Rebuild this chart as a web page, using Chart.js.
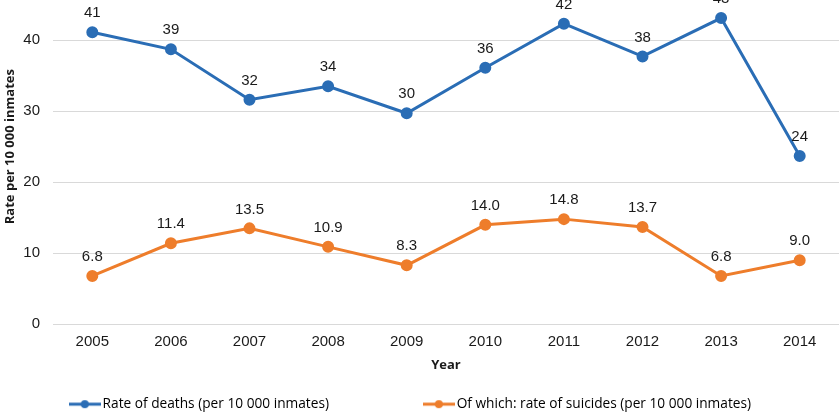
<!DOCTYPE html>
<html>
<head>
<meta charset="utf-8">
<script src="https://cdn.jsdelivr.net/npm/chart.js@4.4.1/dist/chart.umd.min.js"></script>
<style>
  html, body { margin: 0; padding: 0; background: #fff; }
  #wrap { position: relative; width: 839px; height: 412px; overflow: hidden; }
  #box { position: absolute; left: 0; top: -53px; width: 839px; height: 479px; }
</style>
</head>
<body>
<div id="wrap"><div id="box"><canvas id="chart"></canvas></div></div>
<script>
const years = ['2005', '2006', '2007', '2008', '2009', '2010', '2011', '2012', '2013', '2014'];
const deathRates = [41.1, 38.7, 31.6, 33.5, 29.7, 36.1, 42.3, 37.7, 43.1, 23.7];
const suicideRates = [6.8, 11.4, 13.5, 10.9, 8.3, 14.0, 14.8, 13.7, 6.8, 9.0];
const deathDigits = 0;
const suicideDigits = 1;

const blue = '#2a6db5';
const orange = '#ee7d2b';
// spacing for the legend entries (the legend padding is also vertical)
const legendGap = '\u00a0'.repeat(25);
const legendTail = '\u00a0'.repeat(4);

// little line-with-dot marker for the legend
function legendMarker(color) {
    const c = document.createElement('canvas');
    c.width = 32;
    c.height = 10;
    const g = c.getContext('2d');
    g.strokeStyle = color;
    g.lineWidth = 3;
    g.beginPath();
    g.moveTo(0, 5);
    g.lineTo(32, 5);
    g.stroke();
    g.fillStyle = color;
    g.beginPath();
    g.arc(16, 5, 4, 0, Math.PI * 2);
    g.fill();
    return c;
}

// value labels above each point
const valueLabels = {
    id: 'valueLabels',
    afterDatasetsDraw(chart) {
        const ctx = chart.ctx;
        ctx.save();
        ctx.font = '15px "Liberation Sans", Arial, sans-serif';
        ctx.fillStyle = '#1a1a1a';
        ctx.textAlign = 'center';
        ctx.textBaseline = 'middle';
        chart.data.datasets.forEach((ds, i) => {
            chart.getDatasetMeta(i).data.forEach((pt, j) => {
                ctx.fillText(ds.data[j].toFixed(ds.digits), pt.x, pt.y - 19);
            });
        });
        ctx.restore();
    }
};

new Chart(document.getElementById('chart'), {
    type: 'line',
    data: {
        labels: years,
        datasets: [
            {
                label: 'Rate of deaths (per 10 000 inmates)',
                data: deathRates,
                digits: deathDigits,
                borderColor: blue,
                backgroundColor: blue,
                borderWidth: 3,
                pointRadius: 4.5,
                pointHoverRadius: 4.5,
                pointStyle: 'circle',
                tension: 0
            },
            {
                label: 'Of which: rate of suicides (per 10 000 inmates)',
                data: suicideRates,
                digits: suicideDigits,
                borderColor: orange,
                backgroundColor: orange,
                borderWidth: 3,
                pointRadius: 4.5,
                pointHoverRadius: 4.5,
                pointStyle: 'circle',
                tension: 0
            }
        ]
    },
    plugins: [valueLabels],
    options: {
        responsive: true,
        maintainAspectRatio: false,
        animation: false,
        layout: { autoPadding: false, padding: { top: 8, right: 0, bottom: 5, left: 0 } },
        plugins: {
            tooltip: { enabled: false },
            legend: {
                position: 'bottom',
                labels: {
                    usePointStyle: true,
                    pointStyleWidth: 22,
                    padding: 10,
                    color: '#1a1a1a',
                    font: { family: '"Open Sans", sans-serif', size: 13.7 },
                    generateLabels(chart) {
                        return chart.data.datasets.map((ds, i) => ({
                            text: ds.label + (i === 0 ? legendGap : legendTail),
                            pointStyle: legendMarker(ds.borderColor),
                            fillStyle: ds.borderColor,
                            strokeStyle: ds.borderColor,
                            lineWidth: 0,
                            hidden: false,
                            datasetIndex: i
                        }));
                    }
                }
            }
        },
        scales: {
            x: {
                offset: true,
                grid: { display: false },
                border: { display: false },
                ticks: {
                    color: '#1a1a1a',
                    font: { family: '"Liberation Sans", Arial, sans-serif', size: 15 },
                    padding: 1
                },
                title: {
                    display: true,
                    text: 'Year',
                    color: '#1a1a1a',
                    font: { family: '"Open Sans", sans-serif', size: 13, weight: 'bold' },
                    padding: { top: 2, bottom: 14 }
                },
                afterFit(s) {
                    s.height = 63;
                    s.paddingLeft = 0;
                    s.paddingRight = 0;
                }
            },
            y: {
                min: 0,
                max: 50,
                grid: { color: '#d9d9d9', lineWidth: 1, drawTicks: false },
                border: { display: false },
                ticks: {
                    stepSize: 10,
                    color: '#1a1a1a',
                    font: { family: '"Liberation Sans", Arial, sans-serif', size: 15 },
                    padding: 13
                },
                title: {
                    display: true,
                    text: 'Rate per 10 000 inmates',
                    color: '#1a1a1a',
                    font: { family: '"Open Sans", sans-serif', size: 13, weight: 'bold' },
                    padding: { top: 2, bottom: 0 }
                },
                afterFit(s) { s.width = 53; }
            }
        }
    }
});
</script>
</body>
</html>
